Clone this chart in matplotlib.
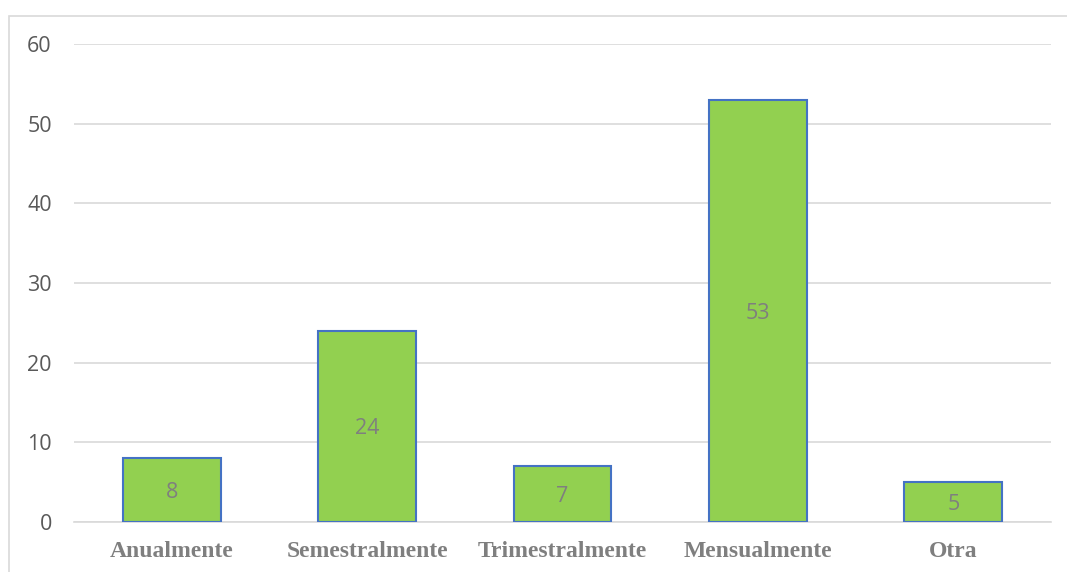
import matplotlib.pyplot as plt
from matplotlib.patches import Rectangle

categorias = ["Anualmente", "Semestralmente", "Trimestralmente", "Mensualmente", "Otra"]
valores = [8, 24, 7, 53, 5]
yticks = [0, 10, 20, 30, 40, 50, 60]

W, H = 1067, 572
fig = plt.figure(figsize=(W / 100, H / 100), dpi=100)

# marco exterior del gráfico
fig.patches.append(Rectangle((9 / W, -0.1), 1.2, 1 - 16 / H + 0.1,
                             transform=fig.transFigure, fill=False,
                             edgecolor="#d9d9d9", linewidth=1.2))

ax = fig.add_axes([74 / W, 1 - 522 / H, (1051 - 74) / W, (522 - 44) / H])

x = range(len(categorias))
bars = ax.bar(x, valores, width=0.5, color="#92D050", edgecolor="#4472C4",
              linewidth=1.5, zorder=3)

for b, v in zip(bars, valores):
    ax.text(b.get_x() + b.get_width() / 2, v / 2, str(v), ha="center",
            va="center_baseline", fontsize=15.5, color="#7f7f7f",
            family="Open Sans", zorder=4)

ax.set_xlim(-0.5, len(categorias) - 0.5)
ax.set_ylim(0, 60)
ax.set_yticks(yticks)
ax.set_yticklabels([str(t) for t in yticks], family="Open Sans", fontsize=15.5, color="#595959")
ax.set_xticks(list(x))
ax.set_xticklabels(categorias, family="Liberation Serif", fontweight="bold",
                   fontsize=17, color="#7f7f7f")
ax.tick_params(axis="both", length=0)
ax.tick_params(axis="y", pad=16)
ax.tick_params(axis="x", pad=14)

ax.grid(axis="y", color="#d9d9d9", linewidth=1.2, zorder=0)
for s in ["top", "right", "left"]:
    ax.spines[s].set_visible(False)
ax.spines["bottom"].set_color("#d9d9d9")
ax.spines["bottom"].set_linewidth(1.2)

fig.savefig("out.png", dpi=100)
